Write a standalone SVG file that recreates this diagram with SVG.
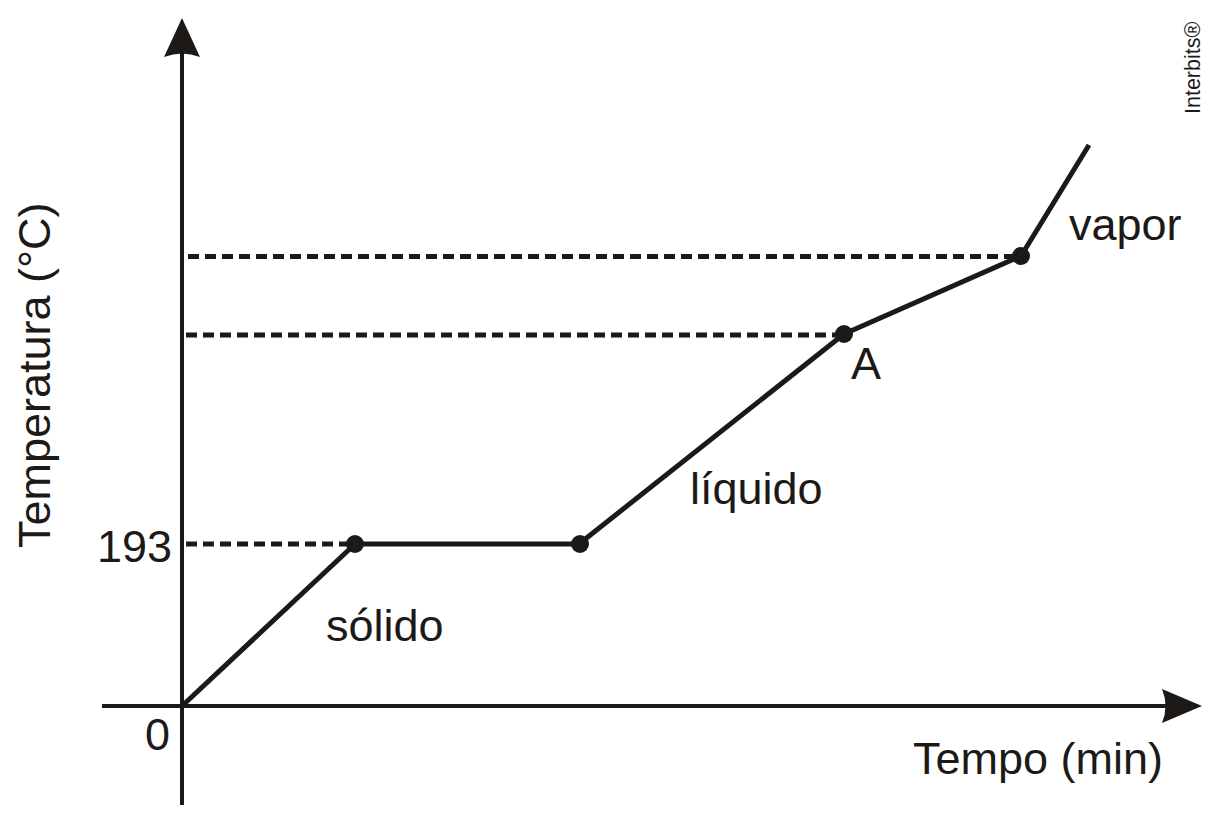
<svg xmlns="http://www.w3.org/2000/svg" width="1218" height="821" viewBox="0 0 1218 821">
<style>
  .ax{stroke:#1c1917;stroke-width:4;fill:none}
  .dash{stroke:#1c1917;stroke-width:5;stroke-dasharray:11 6;fill:none}
  .curve{stroke:#1c1917;stroke-width:5;fill:none;stroke-linejoin:round}
  .dot{fill:#1c1917}
  .head{fill:#1c1917}
  text{font-family:"Liberation Sans",Arial,sans-serif;font-size:45px;fill:#1c1917}
</style>
<rect width="1218" height="821" fill="#fff"/>
<g id="axes">
  <line class="ax" x1="182" y1="50" x2="182" y2="805"/>
  <line class="ax" x1="102" y1="706" x2="1170" y2="706"/>
  <path class="head" d="M182,18 L200,57 Q182,50 164,57 Z"/>
  <path class="head" d="M1202,706 L1162,723 Q1169,706 1162,689 Z"/>
</g>
<g id="connectors">
  <line class="dash" x1="186" y1="544" x2="355" y2="544"/>
  <line class="dash" x1="186" y1="335" x2="844" y2="335"/>
  <line class="dash" x1="188" y1="256.5" x2="1021" y2="256.5"/>
  <polyline class="curve" points="182,706 355,544 579,544 844,334 1021,256 1089,145"/>
</g>
<g id="points">
  <circle class="dot" cx="355" cy="544" r="9"/>
  <circle class="dot" cx="580" cy="544" r="9"/>
  <circle class="dot" cx="844" cy="334" r="9"/>
  <circle class="dot" cx="1021" cy="256" r="9"/>
</g>
<g id="labels">
  <text x="172" y="562" text-anchor="end">193</text>
  <text x="170" y="750" text-anchor="end">0</text>
  <text x="913" y="774">Tempo (min)</text>
  <text transform="translate(50,548) rotate(-90)">Temperatura (°C)</text>
  <text x="326" y="641">sólido</text>
  <text x="690" y="504">líquido</text>
  <text x="851" y="379">A</text>
  <text x="1069" y="240">vapor</text>
  <text transform="translate(1200,114) rotate(-90)" style="font-size:21.5px">Interbits®</text>
</g>
</svg>
